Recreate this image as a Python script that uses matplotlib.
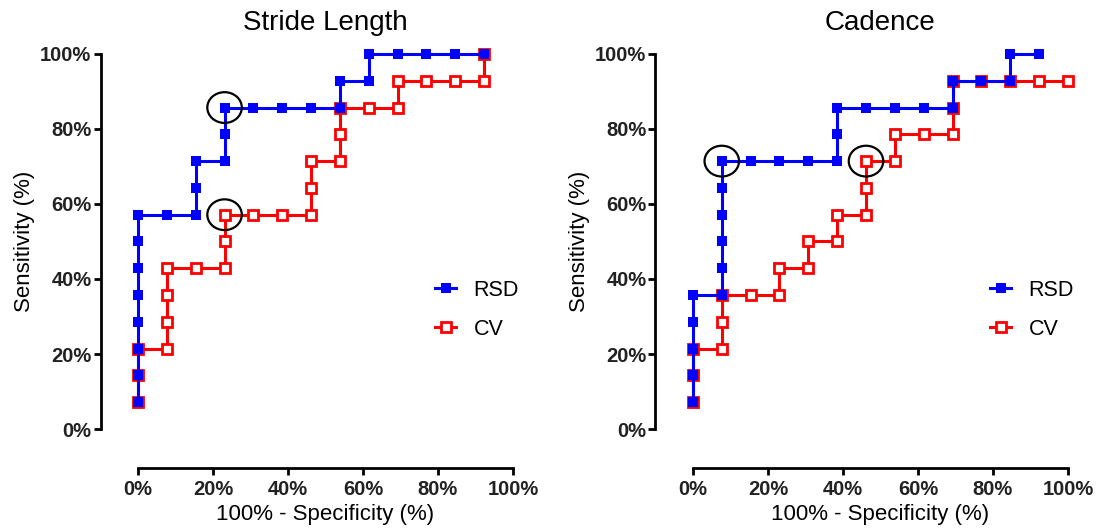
import matplotlib
matplotlib.use('Agg')
import matplotlib.pyplot as plt
from matplotlib.patches import Ellipse
from matplotlib.ticker import PercentFormatter

plt.rcParams['font.family'] = ['Liberation Sans', 'DejaVu Sans']

# ROC points, in % (1 - specificity, sensitivity)
stride_rsd_x = [0, 0, 0, 0, 0, 0, 0, 0, 7.69, 15.38, 15.38, 15.38, 23.08, 23.08, 23.08,
                30.77, 38.46, 46.15, 53.85, 53.85, 61.54, 61.54, 69.23, 76.92, 84.62, 92.31]
stride_rsd_y = [7.14, 14.29, 21.43, 28.57, 35.71, 42.86, 50.0, 57.14, 57.14, 57.14, 64.29, 71.43,
                71.43, 78.57, 85.71, 85.71, 85.71, 85.71, 85.71, 92.86, 92.86, 100, 100, 100, 100, 100]
stride_cv_x = [0, 0, 0, 7.69, 7.69, 7.69, 7.69, 15.38, 23.08, 23.08, 23.08, 30.77, 38.46,
               46.15, 46.15, 46.15, 53.85, 53.85, 53.85, 61.54, 69.23, 69.23, 76.92, 84.62, 92.31, 92.31]
stride_cv_y = [7.14, 14.29, 21.43, 21.43, 28.57, 35.71, 42.86, 42.86, 42.86, 50.0, 57.14, 57.14,
               57.14, 57.14, 64.29, 71.43, 71.43, 78.57, 85.71, 85.71, 85.71, 92.86, 92.86, 92.86,
               92.86, 100]

cad_rsd_x = [0, 0, 0, 0, 0, 7.69, 7.69, 7.69, 7.69, 7.69, 7.69, 15.38, 23.08, 30.77, 38.46,
             38.46, 38.46, 46.15, 53.85, 61.54, 69.23, 69.23, 76.92, 84.62, 84.62, 92.31]
cad_rsd_y = [7.14, 14.29, 21.43, 28.57, 35.71, 35.71, 42.86, 50.0, 57.14, 64.29, 71.43, 71.43,
             71.43, 71.43, 71.43, 78.57, 85.71, 85.71, 85.71, 85.71, 85.71, 92.86, 92.86, 92.86,
             100, 100]
cad_cv_x = [0, 0, 0, 7.69, 7.69, 7.69, 15.38, 23.08, 23.08, 30.77, 30.77, 38.46, 38.46,
            46.15, 46.15, 46.15, 53.85, 53.85, 61.54, 69.23, 69.23, 69.23, 76.92, 84.62, 92.31, 100]
cad_cv_y = [7.14, 14.29, 21.43, 21.43, 28.57, 35.71, 35.71, 35.71, 42.86, 42.86, 50.0, 50.0,
            57.14, 57.14, 64.29, 71.43, 71.43, 78.57, 78.57, 78.57, 85.71, 92.86, 92.86, 92.86,
            92.86, 92.86]

# chosen cut-off points
stride_marks = [(23.08, 85.71), (23.08, 57.14)]
cad_marks = [(7.69, 71.43), (46.15, 71.43)]

titles = ['Stride Length', 'Cadence']
ticks = [0, 20, 40, 60, 80, 100]

fig = plt.figure(figsize=(10.98, 5.29), dpi=100)
ax1 = fig.add_axes([0.1257, 0.189, 0.3415, 0.709])
ax2 = fig.add_axes([0.6311, 0.189, 0.3415, 0.709])

panels = [(ax1, stride_rsd_x, stride_rsd_y, stride_cv_x, stride_cv_y, stride_marks),
          (ax2, cad_rsd_x, cad_rsd_y, cad_cv_x, cad_cv_y, cad_marks)]

for i, (ax, rx, ry, cx, cy, marks) in enumerate(panels):
    ax.plot(cx, cy, '-s', color='#ff0000', lw=2.2, ms=7.8, mfc='white', mew=2.0,
            clip_on=False, zorder=3, label='CV')
    ax.plot(rx, ry, '-s', color='#0000ff', lw=2.2, ms=7.0, mfc='#0000ff', mew=0,
            clip_on=False, zorder=4, label='RSD')
    for (px, py) in marks:
        ax.add_patch(Ellipse((px, py), 9.2, 8.2, fill=False, ec='black', lw=1.6,
                             zorder=5, clip_on=False))
    ax.set_xlim(0, 100)
    ax.set_ylim(0, 100)
    ax.set_xticks(ticks)
    ax.set_yticks(ticks)
    ax.xaxis.set_major_formatter(PercentFormatter(decimals=0))
    ax.yaxis.set_major_formatter(PercentFormatter(decimals=0))
    for s in ['top', 'right']:
        ax.spines[s].set_visible(False)
    ax.spines['left'].set_position(('outward', 27))
    ax.spines['bottom'].set_position(('outward', 28))
    ax.spines['left'].set_linewidth(2)
    ax.spines['bottom'].set_linewidth(2)
    ax.tick_params(width=2, length=5, labelsize=14.5)
    ax.tick_params(axis='x', pad=3.5)
    ax.tick_params(axis='y', pad=1.5)
    for lab in ax.get_xticklabels() + ax.get_yticklabels():
        lab.set_fontweight('bold')
        lab.set_color('#222222')
    ax.set_title(titles[i], fontsize=20, pad=17)
    ax.set_xlabel('100% - Specificity (%)', fontsize=16, labelpad=4)
    ax.set_ylabel('Sensitivity (%)', fontsize=16, labelpad=4)
    h, l = ax.get_legend_handles_labels()
    ax.legend(h[::-1], l[::-1], loc='upper left', bbox_to_anchor=(0.74, 0.45),
              frameon=False, fontsize=15.5, handlelength=1.0, labelspacing=0.85,
              handletextpad=0.8)

fig.savefig('out.png', dpi=100)
